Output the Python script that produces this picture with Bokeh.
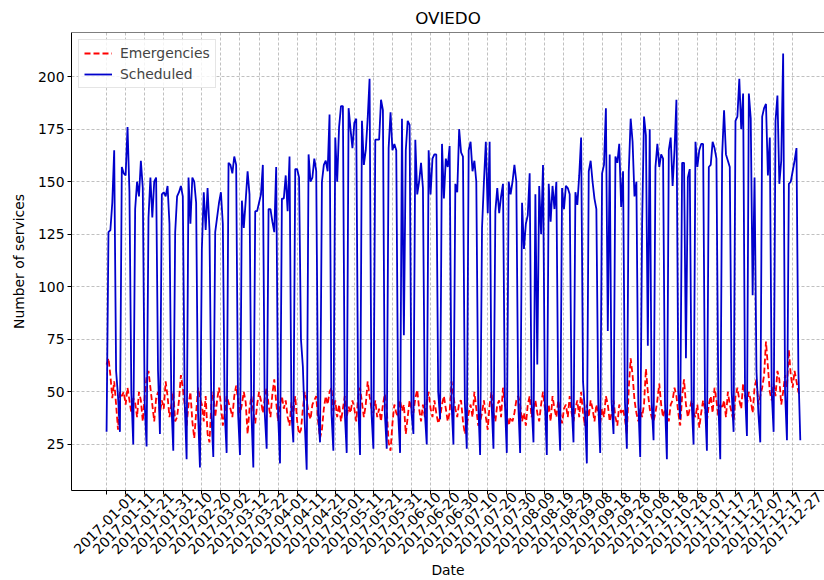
import math
import pandas as pd
from bokeh.plotting import figure
from bokeh.models import Range1d, FixedTicker, LinearAxis, Legend, Span
from bokeh.embed import file_html
from bokeh.resources import INLINE

start_date = "2017-01-01"
n_days = 365

scheduled = [
    31,
    126, 127, 140, 165, 60, 48, 31,
    157, 154, 153, 176, 145, 50, 25,
    137, 150, 143, 160, 147, 45, 24,
    133, 152, 133, 150, 152, 60, 30,
    144, 145, 143, 148, 130, 45, 22,
    126, 143, 145, 148, 143, 45, 18,
    152, 130, 152, 150, 140, 40, 14,
    118, 145, 127, 147, 127, 40, 19,
    126, 133, 140, 145, 130, 40, 21,
    159, 158, 154, 162, 158, 40, 20,
    141, 128, 141, 155, 144, 40, 14,
    136, 136, 140, 144, 158, 40, 23,
    137, 137, 131, 126, 157, 40, 16,
    142, 142, 153, 136, 162, 40, 26,
    156, 156, 152, 75, 62, 35, 13,
    163, 150, 152, 161, 155, 40, 26,
    150, 158, 160, 155, 182, 40, 22,
    171, 150, 176, 186, 186, 40, 21,
    185, 175, 166, 178, 180, 45, 20,
    179, 158, 165, 180, 199, 40, 23,
    170, 170, 170, 189, 184, 40, 23,
    166, 183, 165, 168, 165, 40, 21,
    180, 77, 165, 179, 177, 40, 30,
    170, 144, 150, 159, 147, 40, 25,
    165, 144, 161, 163, 163, 50, 37,
    168, 142, 161, 157, 167, 45, 25,
    149, 145, 175, 164, 162, 45, 23,
    165, 169, 155, 160, 150, 45, 20,
    128, 150, 169, 135, 169, 45, 23,
    136, 147, 135, 143, 149, 45, 21,
    150, 144, 150, 158, 150, 45, 21,
    140, 118, 130, 134, 154, 45, 26,
    144, 63, 148, 125, 158, 45, 20,
    149, 131, 148, 137, 150, 45, 22,
    147, 137, 148, 147, 144, 45, 26,
    145, 139, 153, 171, 55, 40, 16,
    155, 160, 150, 142, 137, 45, 21,
    154, 158, 185, 79, 163, 45, 30,
    162, 159, 168, 138, 155, 45, 23,
    155, 180, 169, 143, 150, 45, 19,
    130, 181, 172, 72, 175, 45, 27,
    157, 168, 157, 163, 161, 45, 18,
    165, 171, 148, 165, 189, 50, 37,
    159, 159, 66, 152, 156, 45, 25,
    169, 157, 165, 168, 168, 45, 22,
    157, 158, 169, 166, 161, 45, 18,
    163, 184, 163, 160, 157, 50, 31,
    179, 181, 199, 175, 192, 50, 29,
    192, 180, 96, 152, 60, 40, 26,
    181, 185, 187, 153, 171, 50, 31,
    179, 191, 149, 160, 211, 50, 27,
    149, 150, 155, 160, 166, 60, 27,
]

emergencies = [
    63,
    66, 58, 47, 55, 44, 32, 50,
    48, 50, 44, 52, 46, 40, 47,
    45, 38, 50, 46, 36, 48, 57,
    60, 52, 44, 36, 47, 50, 40,
    46, 42, 55, 48, 38, 44, 50,
    36, 38, 46, 58, 52, 44, 34,
    44, 50, 36, 28, 40, 52, 47,
    44, 36, 48, 30, 26, 45, 50,
    38, 46, 52, 44, 34, 40, 48,
    45, 42, 38, 48, 53, 46, 40,
    44, 50, 45, 30, 42, 48, 41,
    35, 44, 50, 46, 40, 47, 52,
    44, 38, 49, 56, 45, 36, 44,
    48, 42, 46, 38, 34, 45, 40,
    48, 36, 30, 32, 42, 50, 46,
    40, 37, 44, 46, 48, 36, 28,
    32, 42, 48, 44, 50, 52, 41,
    46, 38, 44, 36, 42, 48, 38,
    43, 40, 46, 42, 36, 48, 52,
    45, 38, 44, 55, 48, 42, 40,
    46, 38, 42, 36, 44, 49, 42,
    26, 22, 35, 44, 40, 38, 46,
    41, 44, 30, 38, 46, 42, 40,
    47, 51, 42, 36, 44, 38, 45,
    50, 42, 38, 46, 40, 35, 38,
    44, 48, 42, 36, 40, 55, 48,
    42, 38, 45, 46, 36, 30, 34,
    40, 44, 38, 50, 42, 34, 36,
    40, 46, 38, 32, 44, 50, 40,
    36, 44, 46, 38, 52, 44, 40,
    34, 38, 36, 40, 46, 48, 44,
    36, 40, 34, 44, 48, 38, 42,
    46, 40, 36, 44, 50, 42, 38,
    44, 36, 48, 42, 38, 46, 40,
    35, 42, 44, 38, 48, 40, 36,
    42, 46, 38, 50, 40, 34, 44,
    38, 46, 42, 36, 44, 40, 35,
    42, 38, 48, 44, 36, 40, 46,
    38, 34, 44, 40, 42, 37, 30,
    52, 66, 58, 46, 40, 36, 42,
    38, 44, 61, 50, 42, 38, 36,
    40, 46, 54, 44, 38, 42, 40,
    36, 44, 46, 52, 48, 40, 34,
    48, 56, 44, 38, 42, 46, 40,
    38, 44, 33, 40, 46, 42, 36,
    44, 48, 40, 52, 46, 38, 44,
    42, 46, 38, 50, 44, 40, 36,
    48, 52, 46, 42, 54, 48, 44,
    50, 46, 40, 52, 56, 44, 48,
    52, 58, 74, 62, 50, 46, 54,
    48, 60, 56, 44, 50, 58, 52,
    70, 58, 52, 60, 55, 50, 48,
]

tick_labels = [
    "2017-01-01", "2017-01-11", "2017-01-21", "2017-01-31", "2017-02-10",
    "2017-02-20", "2017-03-02", "2017-03-12", "2017-03-22", "2017-04-01",
    "2017-04-11", "2017-04-21", "2017-05-01", "2017-05-11", "2017-05-21",
    "2017-05-31", "2017-06-10", "2017-06-20", "2017-06-30", "2017-07-10",
    "2017-07-20", "2017-07-30", "2017-08-09", "2017-08-19", "2017-08-29",
    "2017-09-08", "2017-09-18", "2017-09-28", "2017-10-08", "2017-10-18",
    "2017-10-28", "2017-11-07", "2017-11-17", "2017-11-27", "2017-12-07",
    "2017-12-17", "2017-12-27",
]
y_ticks = [25, 50, 75, 100, 125, 150, 175, 200]

t0 = pd.Timestamp(start_date)
days = list(range(n_days))
tick_days = [int((pd.Timestamp(s) - t0).days) for s in tick_labels]
SHIFT = 14
label_pos = [d + SHIFT for d in tick_days]

FONT = "DejaVu Sans"
FS = "13.9px"

p = figure(width=824, height=580, output_backend="svg", toolbar_location=None,
           x_range=Range1d(-18.4, 376.7), y_range=Range1d(3.1, 221.0),
           min_border_left=71, min_border_right=0, min_border_top=32,
           min_border_bottom=0)
p.outline_line_color = None
p.background_fill_color = "white"
p.border_fill_color = "white"

p.title.text = "OVIEDO"
p.title.align = "center"
p.title.text_font = FONT
p.title.text_font_size = "16.7px"
p.title.text_font_style = "normal"
p.title.text_color = "black"
p.title.standoff = 10

# x axis A: tick marks only
axA = p.xaxis[0]
axA.ticker = FixedTicker(ticks=tick_days)
axA.major_label_text_color = None
axA.major_label_text_font_size = "1px"
axA.major_label_standoff = 0
axA.major_tick_out = 4
axA.major_tick_in = 0
axA.minor_tick_line_color = None
axA.axis_line_color = "black"
axA.major_tick_line_color = "black"

# x axis B: shifted labels
axB = LinearAxis(ticker=FixedTicker(ticks=label_pos),
                 major_label_overrides={pos: lbl for pos, lbl in zip(label_pos, tick_labels)},
                 major_label_orientation=math.pi / 4,
                 axis_line_color=None, major_tick_line_color=None,
                 minor_tick_line_color=None, major_tick_out=0, major_tick_in=0,
                 major_label_standoff=0,
                 axis_label="Date", axis_label_standoff=0)
axB.major_label_text_font = FONT
axB.major_label_text_font_size = FS
axB.major_label_text_color = "black"
axB.axis_label_text_font = FONT
axB.axis_label_text_font_size = FS
axB.axis_label_text_font_style = "normal"
axB.axis_label_text_color = "black"
p.add_layout(axB, "below")

ay = p.yaxis[0]
ay.ticker = FixedTicker(ticks=y_ticks)
ay.major_tick_out = 4
ay.major_tick_in = 0
ay.minor_tick_line_color = None
ay.major_label_standoff = 3
ay.major_label_text_font = FONT
ay.major_label_text_font_size = FS
ay.major_label_text_color = "black"
ay.axis_label = "Number of services"
ay.axis_label_text_font = FONT
ay.axis_label_text_font_size = FS
ay.axis_label_text_font_style = "normal"
ay.axis_label_text_color = "black"
ay.axis_label_standoff = 8
ay.axis_line_color = "black"

p.xgrid.ticker = FixedTicker(ticks=tick_days)
for g in (p.xgrid[0], p.ygrid[0]):
    g.grid_line_color = "#b0b0b0"
    g.grid_line_dash = "3 2"
    g.grid_line_width = 0.8

p.add_layout(Span(location=221.0, dimension="width", line_color="black", line_width=1.2))

r_em = p.line(days, emergencies, line_color="red", line_width=1.8, line_dash="6 3")
r_sc = p.line(days, scheduled, line_color="#0000cc", line_width=1.8)

legend = Legend(items=[("Emergencies", [r_em]), ("Scheduled", [r_sc])],
                location="top_left", margin=7, padding=5, spacing=5,
                glyph_width=28, glyph_height=16, label_height=16,
                label_standoff=8, label_text_font=FONT, label_text_font_size=FS,
                border_line_color="#cccccc", background_fill_alpha=0.8)
p.add_layout(legend)

open("out.html", "w").write(file_html(p, INLINE))
